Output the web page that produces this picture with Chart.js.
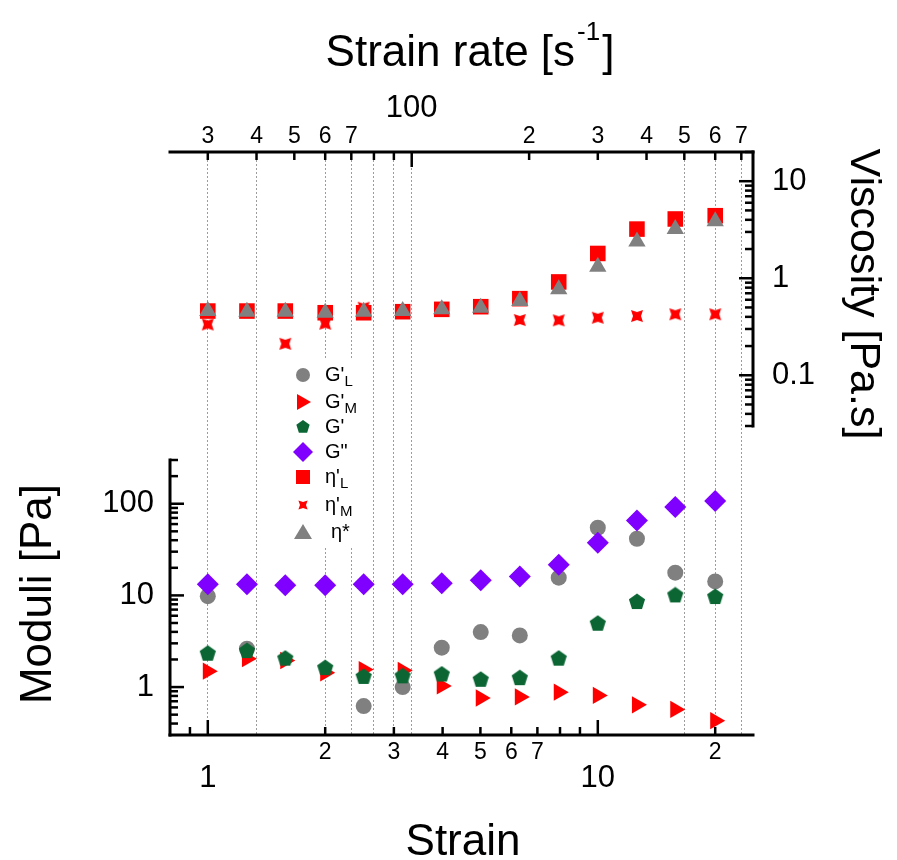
<!DOCTYPE html>
<html>
<head>
<meta charset="utf-8">
<script src="https://cdn.jsdelivr.net/npm/chart.js@4"></script>
<style>
  body { margin: 0; background: #fff; }
  canvas { display: block; }
</style>
</head>
<body>
<canvas id="chart" width="897" height="860"></canvas>
<script>
// strain values (log spaced, 10 points per decade)
const strain = [1, 1.26, 1.58, 2, 2.51, 3.16, 3.98, 5.01, 6.31, 7.94, 10, 12.6, 15.8, 20];

// moduli [Pa]
const gStorageL = [9.8, 2.62, null, null, 0.62, 1.0, 2.69, 3.98, 3.66, 15.6, 54.7, 41.5, 17.7, 14.2];
const gStorageM = [1.49, 2.04, 1.95, 1.43, 1.55, 1.52, 1.03, 0.76, 0.78, 0.88, 0.81, 0.64, 0.57, 0.43];
const gStorage = [2.31, 2.47, 2.04, 1.61, 1.29, 1.31, 1.37, 1.2, 1.25, 2.04, 4.91, 8.46, 10.0, 9.6];
const gLoss = [13.2, 13.2, 12.9, 12.9, 13.2, 13.2, 13.6, 14.6, 16.1, 21.6, 37.6, 65.8, 92, 107];

// viscosity [Pa.s]
const etaL = [0.459, 0.459, 0.459, 0.441, 0.441, 0.452, 0.478, 0.509, 0.616, 0.916, 1.80, 3.21, 4.08, 4.41];
const etaM = [0.334, 0.459, 0.211, 0.34, 0.497, 0.452, 0.478, 0.509, 0.371, 0.368, 0.392, 0.408, 0.425, 0.425];
const etaStar = [0.459, 0.452, 0.452, 0.441, 0.452, 0.459, 0.478, 0.497, 0.583, 0.769, 1.31, 2.39, 3.21, 3.86];

// axis ticks
const strainTicks = [0.9, 1, 2, 3, 4, 5, 6, 7, 8, 9, 10, 20];
const strainLabels = ['', '1', '2', '3', '4', '5', '6', '7', '', '', '10', '2'];
const rateTicks = [30, 40, 50, 60, 70, 80, 90, 100, 200, 300, 400, 500, 600, 700];
const rateLabels = ['3', '4', '5', '6', '7', '', '', '100', '2', '3', '4', '5', '6', '7'];
const rateGrid = [30, 40, 60, 70, 80, 90, 100, 500, 600, 700];
const moduliTicks = [0.4, 0.5, 0.6, 0.7, 0.8, 0.9, 1, 2, 3, 4, 5, 6, 7, 8, 9, 10, 20, 30, 40, 50, 60, 70, 80, 90, 100, 200, 300];
const moduliLabels = { 1: '1', 10: '10', 100: '100' };
const viscTicks = [0.03, 0.04, 0.05, 0.06, 0.07, 0.08, 0.09, 0.1, 0.2, 0.3, 0.4, 0.5, 0.6, 0.7, 0.8, 0.9, 1, 2, 3, 4, 5, 6, 7, 8, 9, 10, 20];
const viscLabels = { 0.1: '0.1', 1: '1', 10: '10' };

const legendItems = [
    { base: "G'", sub: 'L' },
    { base: "G'", sub: 'M' },
    { base: "G'", sub: '' },
    { base: 'G"', sub: '' },
    { base: "\u03b7'", sub: 'L' },
    { base: "\u03b7'", sub: 'M' },
    { base: '\u03b7*', sub: '' }
];

const RED = '#ff0000';
const GRAY = '#808080';
const GREEN = '#0b6634';
const PURPLE = '#8000ff';
const FONT = '"Liberation Sans", Arial, sans-serif';
const font = (px) => px + 'px ' + FONT;

// panel layout (pixels)
const AREA = { left: 170, right: 753, top: 152, bottom: 735 };
const VISC_BOTTOM = 426;
const MOD_TOP = 460;
const areaH = AREA.bottom - AREA.top;
const viscMax = 20;
const viscMin = viscMax / Math.pow(10, Math.log10(20 / 0.03) * areaH / (VISC_BOTTOM - AREA.top));
const modMin = 0.3;
const modMax = modMin * Math.pow(10, 3 * areaH / (AREA.bottom - MOD_TOP));

function makeMarker(size, color, path) {
    const c = document.createElement('canvas');
    c.width = c.height = size;
    const g = c.getContext('2d');
    g.fillStyle = color;
    g.beginPath();
    path(g, size / 2, size / 2);
    g.closePath();
    g.fill();
    return c;
}
const pentagonPath = (r) => (g, cx, cy) => {
    for (let i = 0; i < 5; i++) {
        const a = -Math.PI / 2 + i * 2 * Math.PI / 5;
        g.lineTo(cx + r * Math.cos(a), cy + r * Math.sin(a));
    }
};
const starPath = (ro, ri) => (g, cx, cy) => {
    for (let i = 0; i < 8; i++) {
        const a = Math.PI / 4 + i * Math.PI / 4;
        const r = i % 2 === 0 ? ro : ri;
        g.lineTo(cx + r * Math.cos(a), cy + r * Math.sin(a));
    }
};
const pentagon = makeMarker(18, GREEN, pentagonPath(8.5));
const star = makeMarker(18, RED, starPath(8.5, 4));
const pentagonSmall = makeMarker(16, GREEN, pentagonPath(7));
const starSmall = makeMarker(14, RED, starPath(6.5, 3));

const pts = (arr) => strain.map((s, i) => ({ x: s, y: arr[i] }));

function ds(label, arr, yAxisID, color, style, radius, order, rotation) {
    return {
        label, data: pts(arr), xAxisID: 'x', yAxisID,
        pointStyle: style, pointRadius: radius, pointRotation: rotation || 0,
        pointBackgroundColor: color, pointBorderColor: color, pointBorderWidth: 0,
        showLine: false, order
    };
}

const datasets = [
    ds("G'L", gStorageL, 'yM', GRAY, 'circle', 8, 3),
    ds("G'M", gStorageM, 'yM', RED, 'triangle', 10, 2, 90),
    ds("G'", gStorage, 'yM', GREEN, pentagon, 9, 1),
    ds('G"', gLoss, 'yM', PURPLE, 'rectRot', 11, 1),
    ds("η'L", etaL, 'yV', RED, 'rect', 11, 2),
    ds("η'M", etaM, 'yV', RED, star, 9, 3),
    ds('η*', etaStar, 'yV', GRAY, 'triangle', 10, 1)
];

const hiddenTicks = { display: false };
const setTicks = (values) => (scale) => { scale.ticks = values.map(v => ({ value: v })); };

const drawPlugin = {
    id: 'drawPlugin',
    beforeDatasetsDraw(chart) {
        const ctx = chart.ctx;
        ctx.save();
        ctx.fillStyle = '#fff';
        ctx.fillRect(272, 358, 88, 190);
        ctx.restore();
    },
    afterDatasetsDraw(chart) {
        const ctx = chart.ctx;
        const { x, x2, yM, yV } = chart.scales;
        const ca = chart.chartArea;
        const line = (a, b, c, d) => { ctx.beginPath(); ctx.moveTo(a, b); ctx.lineTo(c, d); ctx.stroke(); };
        const isDecade = (v) => Math.abs(Math.log10(v) - Math.round(Math.log10(v))) < 1e-9;
        ctx.save();
        ctx.strokeStyle = '#000';
        ctx.fillStyle = '#000';
        ctx.lineCap = 'square';

        // axis lines
        ctx.lineWidth = 3;
        line(ca.left, ca.top, ca.right, ca.top);
        line(ca.left, ca.bottom, ca.right, ca.bottom);
        line(ca.left, yM.getPixelForValue(300), ca.left, ca.bottom);
        line(ca.right, ca.top, ca.right, yV.getPixelForValue(0.03));

        // tick marks (inward)
        ctx.lineWidth = 2.5;
        ctx.lineCap = 'butt';
        strainTicks.forEach(v => {
            const p = x.getPixelForValue(v);
            line(p, ca.bottom, p, ca.bottom - (isDecade(v) ? 15 : 8));
        });
        rateTicks.forEach(v => {
            const p = x2.getPixelForValue(v);
            line(p, ca.top, p, ca.top + (isDecade(v) ? 15 : 8));
        });
        moduliTicks.forEach(v => {
            const p = yM.getPixelForValue(v);
            line(ca.left, p, ca.left + (isDecade(v) ? 14 : 8), p);
        });
        viscTicks.forEach(v => {
            const p = yV.getPixelForValue(v);
            line(ca.right, p, ca.right - (isDecade(v) ? 14 : 8), p);
        });

        // tick labels
        ctx.textAlign = 'center';
        ctx.textBaseline = 'middle';
        strainTicks.forEach((v, i) => {
            if (!strainLabels[i]) return;
            const big = isDecade(v);
            ctx.font = font(big ? 31 : 23);
            ctx.fillText(strainLabels[i], x.getPixelForValue(v), ca.bottom + (big ? 43 : 18));
        });
        rateTicks.forEach((v, i) => {
            if (!rateLabels[i]) return;
            const big = isDecade(v);
            ctx.font = font(big ? 31 : 23);
            ctx.fillText(rateLabels[i], x2.getPixelForValue(v), ca.top - (big ? 44 : 15));
        });
        ctx.font = font(31);
        ctx.textAlign = 'right';
        Object.keys(moduliLabels).forEach(k => {
            ctx.fillText(moduliLabels[k], ca.left - 16, yM.getPixelForValue(+k));
        });
        ctx.textAlign = 'left';
        Object.keys(viscLabels).forEach(k => {
            ctx.fillText(viscLabels[k], ca.right + 19, yV.getPixelForValue(+k));
        });

        // axis titles
        ctx.textBaseline = 'alphabetic';
        ctx.font = font(44);
        ctx.textAlign = 'center';
        ctx.fillText('Strain', 463, 855);

        const t1 = 'Strain rate [s', t2 = '-1', t3 = ']';
        ctx.font = font(44);
        const w1 = ctx.measureText(t1).width;
        const w3 = ctx.measureText(t3).width;
        ctx.font = font(26);
        const w2 = ctx.measureText(t2).width;
        let tx = 470 - (w1 + w2 + w3 + 4) / 2;
        ctx.textAlign = 'left';
        ctx.font = font(44);
        ctx.fillText(t1, tx, 66);
        ctx.font = font(26);
        ctx.fillText(t2, tx + w1 + 2, 40);
        ctx.font = font(44);
        ctx.fillText(t3, tx + w1 + w2 + 4, 66);

        ctx.save();
        ctx.translate(51, 594);
        ctx.rotate(-Math.PI / 2);
        ctx.textAlign = 'center';
        ctx.font = font(44);
        ctx.fillText('Moduli [Pa]', 0, 0);
        ctx.restore();

        ctx.save();
        ctx.translate(851, 294);
        ctx.rotate(Math.PI / 2);
        ctx.textAlign = 'center';
        ctx.font = font(43);
        ctx.fillText('Viscosity [Pa.s]', 0, 0);
        ctx.restore();

        // legend
        const ly = [375, 402, 427, 452, 477, 505, 532];
        const mx = 303;
        legendItems.forEach((item, i) => {
            const y = ly[i];
            ctx.fillStyle = datasets[i].pointBackgroundColor;
            ctx.beginPath();
            if (i === 0) {
                ctx.arc(mx, y, 7, 0, Math.PI * 2);
                ctx.fill();
            } else if (i === 1) {
                ctx.moveTo(mx - 6, y - 8); ctx.lineTo(mx + 8, y); ctx.lineTo(mx - 6, y + 8);
                ctx.closePath(); ctx.fill();
            } else if (i === 2) {
                ctx.drawImage(pentagonSmall, mx - 8, y - 8);
            } else if (i === 3) {
                ctx.moveTo(mx, y - 10); ctx.lineTo(mx + 10, y); ctx.lineTo(mx, y + 10); ctx.lineTo(mx - 10, y);
                ctx.closePath(); ctx.fill();
            } else if (i === 4) {
                ctx.fillRect(mx - 7, y - 7, 14, 14);
            } else if (i === 5) {
                ctx.drawImage(starSmall, mx - 7, y - 7);
            } else {
                ctx.moveTo(mx, y - 8); ctx.lineTo(mx + 9, y + 7); ctx.lineTo(mx - 9, y + 7);
                ctx.closePath(); ctx.fill();
            }
            ctx.fillStyle = '#000';
            ctx.textAlign = 'left';
            ctx.textBaseline = 'middle';
            ctx.font = font(20);
            const tx0 = i === 6 ? 331 : 325;
            ctx.fillText(item.base, tx0, y);
            if (item.sub) {
                const bw = ctx.measureText(item.base).width;
                ctx.font = font(15);
                ctx.fillText(item.sub, tx0 + bw, y + 7);
            }
        });
        ctx.restore();
    }
};

new Chart(document.getElementById('chart'), {
    type: 'scatter',
    data: { datasets },
    options: {
        responsive: false,
        animation: false,
        devicePixelRatio: 1,
        events: [],
        layout: { padding: 0 },
        plugins: { legend: { display: false }, tooltip: { enabled: false } },
        scales: {
            x: {
                type: 'logarithmic', position: 'bottom', min: 0.8, max: 25,
                ticks: hiddenTicks, grid: { display: false, drawTicks: false }, border: { display: false },
                afterBuildTicks: setTicks(strainTicks),
                afterFit: (s) => { s.height = 860 - AREA.bottom; }
            },
            x2: {
                type: 'logarithmic', position: 'top', min: 24, max: 750,
                ticks: hiddenTicks,
                grid: {
                    display: true, drawOnChartArea: true, drawTicks: false, lineWidth: 1,
                    color: (c) => (c.tick && rateGrid.includes(c.tick.value)) ? '#9c9c9c' : 'rgba(0,0,0,0)'
                },
                border: { display: false, dash: [2, 2] },
                afterBuildTicks: setTicks(rateTicks),
                afterFit: (s) => { s.height = AREA.top; }
            },
            yM: {
                type: 'logarithmic', position: 'left', min: modMin, max: modMax,
                ticks: hiddenTicks, grid: { display: false, drawTicks: false }, border: { display: false },
                afterBuildTicks: setTicks(moduliTicks),
                afterFit: (s) => { s.width = AREA.left; }
            },
            yV: {
                type: 'logarithmic', position: 'right', min: viscMin, max: viscMax,
                ticks: hiddenTicks, grid: { display: false, drawTicks: false }, border: { display: false },
                afterBuildTicks: setTicks(viscTicks),
                afterFit: (s) => { s.width = 897 - AREA.right; }
            }
        }
    },
    plugins: [drawPlugin]
});
</script>
</body>
</html>
